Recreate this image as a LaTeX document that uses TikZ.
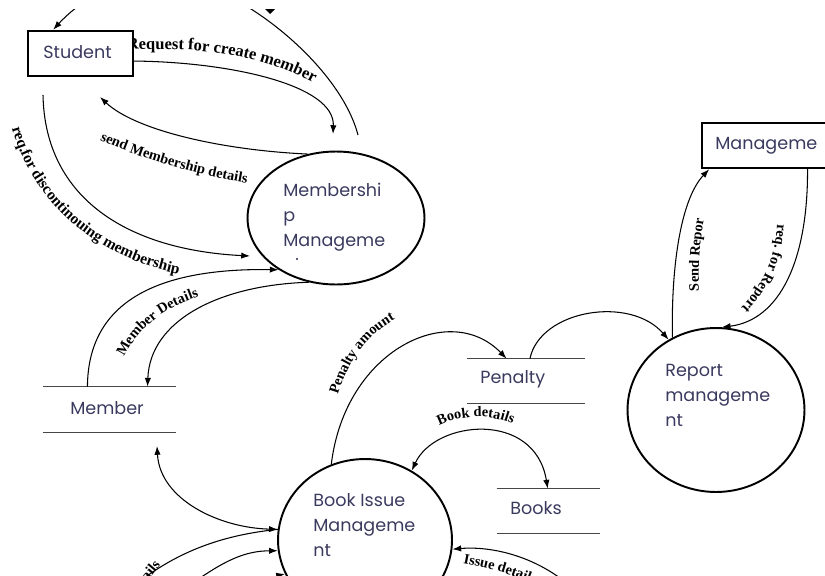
\documentclass[tikz,border=0pt]{standalone}
\usepackage{fontspec}
\setmainfont{Liberation Serif}
\newfontfamily\shapefont{Poppins}
\usetikzlibrary{arrows.meta,shapes.geometric,decorations.text}

\definecolor{inktext}{RGB}{58,58,95}
\definecolor{storeline}{RGB}{70,70,70}
\newcommand{\lblfont}{\bfseries\fontsize{8.2}{9}\selectfont}
\newcommand{\lblfontbig}{\bfseries\fontsize{9.4}{10}\selectfont}
\newcommand{\lblfontmid}{\bfseries\fontsize{8.8}{10}\selectfont}

\begin{document}
\begin{tikzpicture}[x=0.02cm,y=0.02cm,
  tip/.tip={Latex[length=5pt,width=3.6pt]},
  flow/.style={line width=0.6pt,-tip},
  biflow/.style={line width=0.6pt,tip-tip},
  plain/.style={line width=0.6pt},
  process/.style={ellipse,draw,line width=1.1pt,inner sep=0pt},
  entity/.style={rectangle,draw,line width=1.4pt,inner sep=0pt,fill=white},
  store/.style={rectangle,inner sep=0pt},
  stline/.style={draw=storeline,line width=0.9pt},
  ptext/.style={font=\shapefont\fontsize{10}{12}\selectfont,text=inktext,inner sep=0pt,anchor=base west},
  flowtext/.style={decorate,decoration={text along path,text align=left,text={#1}}},
  flowtextc/.style={decorate,decoration={text along path,text align=center,text={#1}}},
]
\useasboundingbox (0,0) rectangle (825,-575);

\begin{scope}
\clip (0,-9) rectangle (825,-575);

% ---- flow labels (set before the boxes, which are filled) ----
\path[flowtext={|\lblfontbig|Request for create member}]
  (127,-50) .. controls (200,-46) and (272,-54) .. (335,-96);
\path[flowtext={|\lblfont|send Membership details}]
  (100,-140) .. controls (140,-158) and (195,-176) .. (260,-185);
\path[flowtext={|\lblfontmid|req.for discontinouing membership}]
  (12,-128) .. controls (30,-195) and (90,-262) .. (200,-278);
\path[flowtext={|\lblfont|Member Details}]
  (124,-357) .. controls (140,-325) and (170,-302) .. (220,-291);
\path[flowtext={|\lblfont|Penalty amount}]
  (338,-395) .. controls (350,-355) and (372,-328) .. (412,-311);
\path[flowtextc={|\lblfont|Book details}]
  (432,-430) .. controls (455,-414) and (495,-412) .. (520,-428);
\path[flowtext={|\lblfont|Send Repor}]
  (699,-291) .. controls (698,-260) and (700,-235) .. (708,-200);
\path[flowtext={|\lblfont|req. for Report}]
  (777,-224) .. controls (776,-255) and (765,-285) .. (735,-314);
\path[flowtext={|\lblfont|Issue details}]
  (463,-563) .. controls (490,-568) and (520,-576) .. (570,-600);
\node[font=\lblfont,rotate=50,anchor=base east,inner sep=0pt] (detlbl) at (161,-565) {details};

% ---- external entities ----
\node[entity,minimum width=2.1cm,minimum height=0.9cm] (student) at (80.5,-53.5) {};
\node[ptext] (studentt) at (43,-58) {Student};
\node[entity,minimum width=2.76cm,minimum height=0.9cm] (mgmt) at (771,-145.5) {};
\node[ptext] (mgmtt) at (715,-149.5) {Manageme};

% ---- processes ----
\node[process,minimum width=3.54cm,minimum height=2.66cm] (mm) at (336,-218) {};
\node[ptext] (mmt1) at (283,-196) {Membershi};
\node[ptext] (mmt2) at (283,-221) {p};
\node[ptext] (mmt3) at (283,-246) {Manageme};
\begin{scope}
  \clip (280,-250) rectangle (330,-259.5);
  \node[ptext] (mmt4) at (283,-270) {nt};
\end{scope}

\node[process,minimum width=3.54cm,minimum height=3.28cm] (rm) at (716,-410) {};
\node[ptext] (rmt1) at (665,-376) {Report};
\node[ptext] (rmt2) at (665,-401) {manageme};
\node[ptext] (rmt3) at (665,-426) {nt};

\node[process,minimum width=3.48cm,minimum height=3.24cm] (bim) at (365,-540) {};
\node[ptext] (bimt1) at (313,-506) {Book Issue};
\node[ptext] (bimt2) at (313,-531) {Manageme};
\node[ptext] (bimt3) at (313,-556) {nt};

% ---- data stores ----
\node[store,minimum width=2.66cm,minimum height=0.9cm] (member) at (109.5,-409.5) {};
\draw[stline] (member.north west) -- (member.north east);
\draw[stline] (member.south west) -- (member.south east);
\node[ptext] (membert) at (70,-414) {Member};

\node[store,minimum width=2.36cm,minimum height=0.88cm] (penalty) at (526,-381) {};
\draw[stline] (penalty.north west) -- (penalty.north east);
\draw[stline] (penalty.south west) -- (penalty.south east);
\node[ptext] (penaltyt) at (480,-383) {Penalty};

\node[store,minimum width=2.06cm,minimum height=0.88cm] (books) at (548.5,-511) {};
\draw[stline] (books.north west) -- (books.north east);
\draw[stline] (books.south west) -- (books.south east);
\node[ptext] (bookst) at (510,-514) {Books};

% ---- data flows ----
\coordinate (topin) at (84,-2);
\draw[flow] (topin) .. controls (72,-10) and (62,-20) .. (student.139);

\coordinate (arcin) at (236,0);
\coordinate (arcend) at (358,-135);
\draw[plain] (arcin) .. controls (290,-30) and (345,-85) .. (arcend);
\fill (265,-9) -- (275,-9) -- (270,-14) -- cycle;

\coordinate (reqend) at (333,-134);
\draw[flow] (student.-8) .. controls (230,-62) and (335,-85) .. (reqend);

\coordinate (sendend) at (100,-97);
\draw[flow] (mm.114) .. controls (220,-150) and (135,-130) .. (sendend);

\coordinate (discstart) at (43,-95);
\coordinate (discend) at (250,-256);
\draw[flow] (discstart) .. controls (45,-200) and (130,-250) .. (discend);

\draw[flow] (member.134) .. controls (88,-300) and (160,-268) .. (mm.222);
\draw[flow] (mm.247) .. controls (220,-285) and (150,-320) .. (member.31);

\coordinate (memlow) at (157,-446);
\draw[biflow] (memlow) .. controls (160,-500) and (220,-528) .. (bim.173);

\coordinate (inA) at (135,-585);
\coordinate (inB) at (190,-585);
\coordinate (inC) at (250,-600);
\draw[plain] (inA) .. controls (185,-545) and (235,-534) .. (bim.173);
\draw[flow] (inB) .. controls (225,-560) and (245,-551) .. (bim.187);
\draw[flow] (inC) .. controls (265,-585) and (280,-575) .. (bim.203);

\coordinate (issin) at (580,-595);
\draw[flow] (issin) .. controls (540,-555) and (490,-546) .. (bim.-6);

\draw[flow] (bim.114) .. controls (345,-350) and (450,-300) .. (penalty.131);
\draw[flow] (penalty.80) .. controls (540,-310) and (630,-295) .. (rm.124);

\draw[flow] (rm.121) .. controls (671,-270) and (680,-200) .. (mgmt.201);
\draw[flow] (mgmt.-33.5) .. controls (808,-260) and (780,-320) .. (rm.86);

\draw[biflow] (bim.56) .. controls (435,-420) and (535,-410) .. (books.92);
\end{scope}
\end{tikzpicture}
\end{document}
